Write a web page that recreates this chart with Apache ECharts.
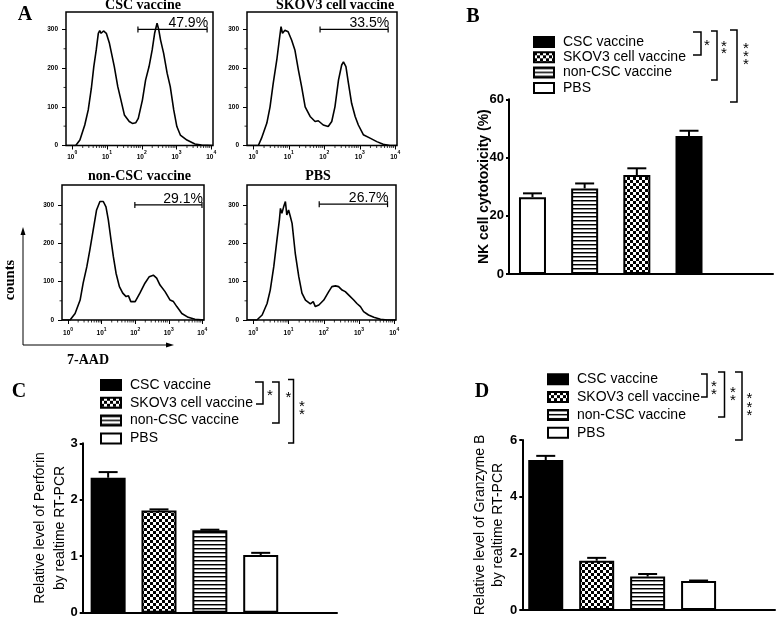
<!DOCTYPE html>
<html><head><meta charset="utf-8">
<script src="https://cdn.jsdelivr.net/npm/echarts@6/dist/echarts.min.js"></script>
<style>html,body{margin:0;padding:0;background:#fff}#c{width:778px;height:620px}</style>
</head><body><div id="c"></div>
<script>
// ---------------- DATA ----------------
const histTitles = ['CSC vaccine', 'SKOV3 cell vaccine', 'non-CSC vaccine', 'PBS'];
const histXTicks = [0, 1, 2, 3, 4];
const histYTicks = [0, 100, 200, 300];
const gatePct = ['47.9%', '33.5%', '29.1%', '26.7%'];
const gateFrom = [1.89, 1.88, 1.99, 1.87];
const gateTo = [3.88, 3.80, 3.99, 3.81];
const gateCount = [300, 300, 300, 302];
// x = log10(7-AAD intensity), y = counts
const histCSC = [[-0.18,0],[0.1,0],[0.22,14],[0.36,53],[0.46,92],[0.55,148],[0.62,204],[0.69,247],[0.75,290],[0.79,297],[0.83,290],[0.9,296],[0.98,290],[1.07,264],[1.21,204],[1.31,152],[1.4,118],[1.5,79],[1.64,62],[1.73,57],[1.83,59],[1.9,70],[2.02,118],[2.11,169],[2.21,204],[2.3,247],[2.37,290],[2.44,316],[2.49,299],[2.54,273],[2.63,238],[2.73,187],[2.82,152],[2.92,92],[3.01,49],[3.11,27],[3.3,14],[3.53,4],[3.72,1],[4.05,0]];
const histSKOV3 = [[-0.18,0],[0.14,0],[0.23,19],[0.38,58],[0.47,100],[0.56,161],[0.66,221],[0.73,272],[0.78,307],[0.82,290],[0.89,298],[0.98,294],[1.08,272],[1.17,247],[1.27,195],[1.36,152],[1.46,100],[1.6,75],[1.74,62],[1.83,64],[1.97,53],[2.11,49],[2.21,62],[2.3,100],[2.4,169],[2.49,208],[2.54,216],[2.61,204],[2.68,161],[2.77,109],[2.87,75],[2.96,53],[3.1,28],[3.29,19],[3.48,10],[3.66,3],[3.85,0],[4.05,0]];
const histNonCSC = [[-0.18,0],[0.06,0],[0.21,17],[0.36,52],[0.45,96],[0.56,139],[0.65,183],[0.75,235],[0.85,287],[0.95,309],[1.05,309],[1.13,295],[1.2,261],[1.28,209],[1.35,165],[1.43,122],[1.53,87],[1.63,70],[1.73,61],[1.8,63],[1.87,48],[2.0,48],[2.14,70],[2.29,96],[2.42,113],[2.54,117],[2.64,109],[2.74,91],[2.89,74],[3.04,52],[3.14,48],[3.24,35],[3.39,17],[3.58,7],[3.78,2],[4.05,0]];
const histPBS = [[-0.18,0],[0.1,0],[0.25,13],[0.39,43],[0.48,78],[0.58,139],[0.67,209],[0.74,261],[0.77,291],[0.81,278],[0.86,295],[0.91,309],[0.95,274],[1.0,287],[1.05,270],[1.1,252],[1.19,174],[1.29,113],[1.38,70],[1.48,52],[1.62,42],[1.7,48],[1.76,35],[1.86,39],[2.0,52],[2.14,74],[2.23,87],[2.33,89],[2.42,87],[2.52,78],[2.61,74],[2.71,65],[2.85,52],[2.94,43],[3.04,35],[3.13,22],[3.27,13],[3.42,7],[3.61,2],[3.8,0],[4.05,0]];
const histCurves = [histCSC, histSKOV3, histNonCSC, histPBS];

const legendOrder = ['CSC vaccine', 'SKOV3 cell vaccine', 'non-CSC vaccine', 'PBS'];
const nkGroups = ['PBS', 'non-CSC vaccine', 'SKOV3 cell vaccine', 'CSC vaccine'];
const nkMean = [26.4, 29.4, 34.0, 47.4];
const nkErr = [1.3, 1.7, 2.3, 1.8];
const perfGroups = ['CSC vaccine', 'SKOV3 cell vaccine', 'non-CSC vaccine', 'PBS'];
const perfMean = [2.39, 1.81, 1.46, 1.02];
const perfErr = [0.10, 0.02, 0.01, 0.04];
const granzGroups = ['CSC vaccine', 'SKOV3 cell vaccine', 'non-CSC vaccine', 'PBS'];
const granzMean = [5.29, 1.74, 1.18, 1.02];
const granzErr = [0.15, 0.10, 0.09, 0.02];

// ---------------- STYLE ----------------
const F_SANS = 'Arial, "Liberation Sans", sans-serif';
const F_SERIF = '"Times New Roman", "Liberation Serif", serif';

function makeChecker() {
  const c = document.createElement('canvas'); c.width = 6; c.height = 6;
  const g = c.getContext('2d');
  g.fillStyle = '#fff'; g.fillRect(0, 0, 6, 6);
  g.fillStyle = '#000'; g.fillRect(0, 0, 3, 3); g.fillRect(3, 3, 3, 3);
  return c;
}
function makeStripes() {
  const c = document.createElement('canvas'); c.width = 4; c.height = 4;
  const g = c.getContext('2d');
  g.fillStyle = '#fff'; g.fillRect(0, 0, 4, 4);
  g.fillStyle = '#000'; g.fillRect(0, 0, 4, 1);
  g.fillStyle = '#888'; g.fillRect(0, 1, 4, 1);
  return c;
}
const fills = {
  'CSC vaccine': '#000',
  'SKOV3 cell vaccine': { image: makeChecker(), repeat: 'repeat' },
  'non-CSC vaccine': { image: makeStripes(), repeat: 'repeat' },
  'PBS': '#fff'
};

const histBox = [
  { left: 66, top: 12, width: 147, height: 133.5, ymax: 345, lm: 5 },
  { left: 247, top: 12, width: 150, height: 133.5, ymax: 345, lm: 5 },
  { left: 62, top: 185, width: 142, height: 135, ymax: 352, lm: 7 },
  { left: 247, top: 185, width: 149, height: 135, ymax: 352, lm: 7 }
];
const histTitlePos = [[143, 5], [335, 5], [139.5, 176], [318, 176]];

const minorX = [];
for (let d = 0; d < 4; d++) for (let k = 2; k <= 9; k++) minorX.push(d + Math.log10(k));
const minorY = [50, 150, 250];

const grids = [], xAxes = [], yAxes = [], series = [];

histBox.forEach((b, i) => {
  grids.push({ left: b.left, top: b.top, width: b.width, height: b.height, show: true,
    borderColor: '#000', borderWidth: 1.5, backgroundColor: 'transparent' });
  xAxes.push({ gridIndex: i, type: 'value', min: -0.18, max: 4.05,
    axisLine: { show: false, onZero: false }, splitLine: { show: false },
    axisTick: { show: true, customValues: histXTicks, length: 4, lineStyle: { color: '#000', width: 1 } },
    axisLabel: { customValues: histXTicks, margin: b.lm, color: '#000',
      formatter: v => '{b|10}{s|' + v + '}',
      rich: {
        b: { fontSize: 6.5, fontWeight: 'bold', fontFamily: F_SANS, color: '#000', lineHeight: 10, verticalAlign: 'bottom' },
        s: { fontSize: 5, fontWeight: 'bold', fontFamily: F_SANS, color: '#000', lineHeight: 6, verticalAlign: 'top' }
      } } });
  yAxes.push({ gridIndex: i, type: 'value', min: 0, max: b.ymax,
    axisLine: { show: false, onZero: false }, splitLine: { show: false },
    axisTick: { show: true, customValues: histYTicks, length: 4, lineStyle: { color: '#000', width: 1 } },
    axisLabel: { customValues: histYTicks, fontSize: 6.5, fontWeight: 'bold', fontFamily: F_SANS, color: '#000', margin: 8 } });
  series.push({ type: 'line', xAxisIndex: i, yAxisIndex: i, data: histCurves[i], showSymbol: false,
    symbol: 'none', lineStyle: { color: '#000', width: 1.6 }, silent: true, z: 3 });
  series.push({ type: 'custom', xAxisIndex: i, yAxisIndex: i, silent: true, clip: false,
    data: minorX.map(v => [v, 0, 0]).concat(minorY.map(v => [-0.18, v, 1])),
    renderItem: (params, api) => {
      const p = api.coord([api.value(0), api.value(1)]);
      if (api.value(2) === 0)
        return { type: 'line', shape: { x1: p[0], y1: p[1], x2: p[0], y2: p[1] + 2.5 }, style: { stroke: '#000', lineWidth: 0.8 } };
      return { type: 'line', shape: { x1: p[0] - 2.5, y1: p[1], x2: p[0], y2: p[1] }, style: { stroke: '#000', lineWidth: 0.8 } };
    } });
  series.push({ type: 'custom', xAxisIndex: i, yAxisIndex: i, silent: true, clip: false,
    data: [[gateFrom[i], gateTo[i], gateCount[i]]],
    renderItem: (params, api) => {
      const a = api.coord([api.value(0), api.value(2)]);
      const c = api.coord([api.value(1), api.value(2)]);
      const st = { stroke: '#000', lineWidth: 1.2 };
      return { type: 'group', children: [
        { type: 'line', shape: { x1: a[0], y1: a[1], x2: c[0], y2: c[1] }, style: st },
        { type: 'line', shape: { x1: a[0], y1: a[1] - 3, x2: a[0], y2: a[1] + 3 }, style: st },
        { type: 'line', shape: { x1: c[0], y1: c[1] - 3, x2: c[0], y2: c[1] + 3 }, style: st },
        { type: 'text', x: c[0] + 1, y: c[1] - 6, style: { text: gatePct[i], font: '14px ' + F_SANS, fill: '#000',
          align: 'right', verticalAlign: 'middle' } }
      ] };
    } });
});

function errRender(params, api) {
  const x = api.value(0), m = api.value(1), e = api.value(2);
  const p0 = api.coord([x, m]), p1 = api.coord([x, m + e]);
  const hw = 9.5, st = { stroke: '#000', lineWidth: 2 };
  return { type: 'group', children: [
    { type: 'line', shape: { x1: p0[0], y1: p0[1], x2: p1[0], y2: p1[1] }, style: st },
    { type: 'line', shape: { x1: p1[0] - hw, y1: p1[1], x2: p1[0] + hw, y2: p1[1] }, style: st }
  ] };
}

const barCharts = [
  { grid: { left: 509, top: 99.3, width: 264, height: 174.7 }, xmin: -0.45, xmax: 4.61, ymax: 60, yint: 20,
    groups: nkGroups, mean: nkMean, err: nkErr, bw: 27,
    name: 'NK cell cytotoxicity (%)', nameGap: 17, nameStyle: { fontWeight: 'bold', fontSize: 14, lineHeight: 16 } },
  { grid: { left: 82.7, top: 443.3, width: 254.3, height: 169.4 }, xmin: -0.5, xmax: 4.5, ymax: 3, yint: 1,
    groups: perfGroups, mean: perfMean, err: perfErr, bw: 35,
    name: 'Relative level of Perforin\nby realtime RT-PCR', nameGap: 13, nameStyle: { fontWeight: 'normal', fontSize: 14, lineHeight: 20 } },
  { grid: { left: 522.3, top: 440, width: 252.7, height: 170 }, xmin: -0.46, xmax: 4.5, ymax: 6, yint: 2,
    groups: granzGroups, mean: granzMean, err: granzErr, bw: 35,
    name: 'Relative level of Granzyme B\nby realtime RT-PCR', nameGap: 15, nameStyle: { fontWeight: 'normal', fontSize: 14, lineHeight: 18 } }
];

barCharts.forEach((bc, j) => {
  const gi = 4 + j;
  grids.push(bc.grid);
  xAxes.push({ gridIndex: gi, type: 'value', min: bc.xmin, max: bc.xmax,
    axisLine: { show: true, onZero: false, lineStyle: { color: '#000', width: 2 } },
    axisTick: { show: false }, axisLabel: { show: false }, splitLine: { show: false } });
  yAxes.push({ gridIndex: gi, type: 'value', min: 0, max: bc.ymax, interval: bc.yint,
    axisLine: { show: true, onZero: false, lineStyle: { color: '#000', width: 2 } },
    axisTick: { show: true, length: 3, lineStyle: { color: '#000', width: 2 } },
    axisLabel: { fontSize: 13, fontWeight: 'bold', fontFamily: F_SANS, color: '#000', margin: 5 },
    splitLine: { show: false },
    name: bc.name, nameLocation: 'middle', nameGap: bc.nameGap, nameRotate: 90, nameMoveOverlap: false,
    nameTextStyle: Object.assign({ fontFamily: F_SANS, color: '#000', align: 'center' }, bc.nameStyle) });
  bc.groups.forEach((g, i) => {
    series.push({ type: 'bar', name: g, xAxisIndex: gi, yAxisIndex: gi, data: [[i, bc.mean[i]]],
      barWidth: bc.bw, barGap: '-100%', silent: true,
      itemStyle: { color: fills[g], borderColor: '#000', borderWidth: 2 }, z: 2 });
  });
  series.push({ type: 'custom', xAxisIndex: gi, yAxisIndex: gi, silent: true, clip: false, z: 3,
    data: bc.mean.map((m, i) => [i, m, bc.err[i]]), renderItem: errRender });
});

const legendBase = { data: legendOrder, orient: 'vertical', itemWidth: 20, itemHeight: 10, icon: 'rect',
  selectedMode: false, padding: 0,
  textStyle: { fontFamily: F_SANS, fontSize: 14, color: '#000', padding: [0, 0, 0, 4] } };
const legends = [
  Object.assign({}, legendBase, { left: 533, top: 35, itemGap: 1.3 }),
  Object.assign({}, legendBase, { left: 100, top: 378, itemGap: 3.8 }),
  Object.assign({}, legendBase, { left: 547, top: 372.3, itemGap: 3.8 })
];

// ---------------- ANNOTATIONS ----------------
const gfx = [];
function T(x, y, text, font, rot) {
  gfx.push({ type: 'text', x: x, y: y, rotation: rot || 0, silent: true,
    style: { text: text, font: font, fill: '#000', align: 'center', verticalAlign: 'middle' } });
}
function P(points, lw) {
  gfx.push({ type: 'polyline', silent: true, shape: { points: points }, style: { stroke: '#000', lineWidth: lw || 1.5, fill: null } });
}
function G(points) {
  gfx.push({ type: 'polygon', silent: true, shape: { points: points }, style: { fill: '#000' } });
}
function star(x, y) { T(x, y + 3, '*', '15px ' + F_SANS); }

T(25, 15, 'A', 'bold 20px ' + F_SERIF);
T(473, 17, 'B', 'bold 20px ' + F_SERIF);
T(19, 392, 'C', 'bold 20px ' + F_SERIF);
T(482, 392, 'D', 'bold 20px ' + F_SERIF);
histTitles.forEach((t, i) => T(histTitlePos[i][0], histTitlePos[i][1], t, 'bold 14px ' + F_SERIF));
T(10, 280, 'counts', 'bold 14.5px ' + F_SERIF, Math.PI / 2);
T(88, 360, '7-AAD', 'bold 14px ' + F_SERIF);
P([[23, 232], [23, 345], [168, 345]], 1);
G([[23, 227], [20.5, 235], [25.5, 235]]);
G([[174, 345], [166, 342.5], [166, 347.5]]);

// B brackets
P([[693, 32], [701, 32], [701, 55], [693, 55]]);
P([[711, 31], [717, 31], [717, 80], [711, 80]]);
P([[730, 30], [737, 30], [737, 102], [730, 102]]);
star(707, 43);
star(724, 43.7); star(724, 50.7);
star(746, 46); star(746, 54); star(746, 62);
// C brackets
P([[255, 382], [263, 382], [263, 404], [256, 404]]);
P([[272, 382], [279, 382], [279, 423], [272, 423]]);
P([[288, 379.5], [293.5, 379.5], [293.5, 443], [288, 443]]);
star(270, 393);
star(288.5, 395);
star(302, 403.5); star(302, 411.5);
// D brackets
P([[701, 374], [707, 374], [707, 397], [701, 397]]);
P([[718, 372], [724.5, 372], [724.5, 417], [718, 417]]);
P([[735, 372], [742, 372], [742, 440], [735, 440]]);
star(714, 384.2); star(714, 391.7);
star(733, 390); star(733, 397.5);
star(749.5, 396); star(749.5, 404.5); star(749.5, 413);

const chart = echarts.init(document.getElementById('c'), null, { renderer: 'canvas', width: 778, height: 620 });
chart.setOption({
  animation: false,
  backgroundColor: '#fff',
  grid: grids,
  xAxis: xAxes,
  yAxis: yAxes,
  legend: legends,
  series: series,
  graphic: { elements: gfx }
});
</script></body></html>
